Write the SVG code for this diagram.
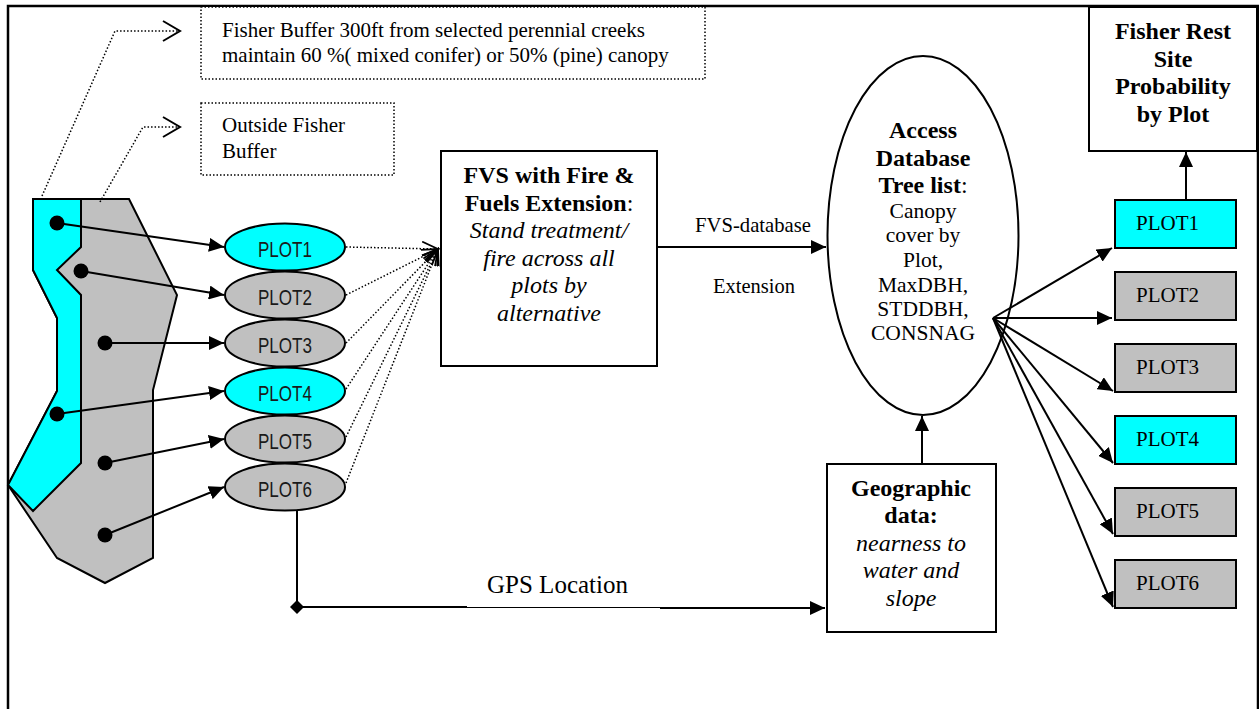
<svg xmlns="http://www.w3.org/2000/svg" width="1259" height="709" viewBox="0 0 1259 709">
  <defs>
    <style>
      .frame { fill: none; stroke: #000; stroke-width: 2.5; }
      .dotbox { fill: #fff; stroke: #000; stroke-width: 1.5; stroke-dasharray: 1.5 2; }
      .box { fill: #fff; stroke: #000; stroke-width: 2; }
      .cyan { fill: #00ffff; }
      .grey { fill: #c0c0c0; }
      .shape { stroke: #000; stroke-width: 2; stroke-linejoin: miter; }
      .solid { fill: none; stroke: #000; stroke-width: 2; }
      .dotted { fill: none; stroke: #000; stroke-width: 1.5; stroke-dasharray: 1.5 2; }
      .serif { font-family: "Liberation Serif", "Times New Roman", serif; fill: #000; }
      .sans { font-family: "Liberation Sans", Arial, sans-serif; fill: #1a1a1a; font-size: 22px; }
      .note { font-size: 21px; }
      .b { font-weight: bold; font-size: 24px; }
      .i { font-style: italic; font-size: 24px; }
      .r { font-size: 21.5px; }
      .mid { text-anchor: middle; }
    </style>
    <marker id="head" markerUnits="userSpaceOnUse" markerWidth="16" markerHeight="14" refX="15" refY="7" orient="auto">
      <path d="M0,0 L15,7 L0,14 z" fill="#000"/>
    </marker>
    <marker id="open" markerUnits="userSpaceOnUse" markerWidth="18" markerHeight="16" refX="16" refY="8" orient="auto">
      <path d="M0,1 L16,8 L0,15" fill="none" stroke="#000" stroke-width="1.8"/>
    </marker>
    <marker id="openBig" markerUnits="userSpaceOnUse" markerWidth="20" markerHeight="22" refX="18" refY="11" orient="auto">
      <path d="M1,1 L18,11 L1,21" fill="none" stroke="#000" stroke-width="2"/>
    </marker>
    <marker id="diamond" markerUnits="userSpaceOnUse" markerWidth="16" markerHeight="16" refX="8" refY="8" orient="auto">
      <path d="M8,1 L15,8 L8,15 L1,8 z" fill="#000"/>
    </marker>
  </defs>

  <rect class="frame" x="8" y="6" width="1250" height="720"/>

  <!-- stream area map -->
  <g id="area-map">
    <polygon class="grey shape" points="33,199 129,199 177,295 153,390 153,558 105,583 57,558 8,485 57,391 57,318 33,270"/>
    <polygon class="cyan shape" points="33,199 81,199 81,247 57,270 81,295 81,463 33,511 8,485 57,391 57,318 33,270"/>
    <circle cx="57" cy="223" r="7.5" fill="#000"/>
    <circle cx="81" cy="271" r="7.5" fill="#000"/>
    <circle cx="105" cy="343" r="7.5" fill="#000"/>
    <circle cx="57" cy="414" r="7.5" fill="#000"/>
    <circle cx="105" cy="463" r="7.5" fill="#000"/>
    <circle cx="105" cy="535" r="7.5" fill="#000"/>
  </g>

  <!-- legend notes -->
  <g id="note-buffer">
    <rect class="dotbox" x="201" y="7" width="504" height="72"/>
    <text class="serif note" x="222" y="37">Fisher Buffer 300ft from selected perennial creeks</text>
    <text class="serif note" x="222" y="62">maintain 60 %( mixed conifer) or 50% (pine) canopy</text>
  </g>
  <g id="note-outside">
    <rect class="dotbox" x="201" y="103" width="193" height="72"/>
    <text class="serif note" x="222" y="132">Outside Fisher</text>
    <text class="serif note" x="222" y="158">Buffer</text>
  </g>

  <!-- plot ellipses -->
  <g id="plot1-e"><ellipse cx="285" cy="247" rx="60" ry="23.5" class="cyan shape"/><text class="sans mid" x="285" y="257" textLength="54" lengthAdjust="spacingAndGlyphs">PLOT1</text></g>
  <g id="plot2-e"><ellipse cx="285" cy="295" rx="60" ry="23.5" class="grey shape"/><text class="sans mid" x="285" y="305" textLength="54" lengthAdjust="spacingAndGlyphs">PLOT2</text></g>
  <g id="plot3-e"><ellipse cx="285" cy="343" rx="60" ry="23.5" class="grey shape"/><text class="sans mid" x="285" y="353" textLength="54" lengthAdjust="spacingAndGlyphs">PLOT3</text></g>
  <g id="plot4-e"><ellipse cx="285" cy="391" rx="60" ry="23.5" class="cyan shape"/><text class="sans mid" x="285" y="401" textLength="54" lengthAdjust="spacingAndGlyphs">PLOT4</text></g>
  <g id="plot5-e"><ellipse cx="285" cy="439" rx="60" ry="23.5" class="grey shape"/><text class="sans mid" x="285" y="449" textLength="54" lengthAdjust="spacingAndGlyphs">PLOT5</text></g>
  <g id="plot6-e"><ellipse cx="285" cy="487" rx="60" ry="23.5" class="grey shape"/><text class="sans mid" x="285" y="497" textLength="54" lengthAdjust="spacingAndGlyphs">PLOT6</text></g>

  <!-- FVS model -->
  <g id="fvs">
    <rect class="box" x="441" y="151" width="216" height="215"/>
    <text class="serif mid" x="549" y="183"><tspan class="b">FVS with Fire &amp;</tspan></text>
    <text class="serif mid" x="549" y="211"><tspan class="b">Fuels Extension</tspan><tspan font-size="24">:</tspan></text>
    <text class="serif i mid" x="549" y="238">Stand treatment/</text>
    <text class="serif i mid" x="549" y="266">fire across all</text>
    <text class="serif i mid" x="549" y="293">plots by</text>
    <text class="serif i mid" x="549" y="321">alternative</text>
  </g>

  <!-- Access database -->
  <g id="access">
    <ellipse cx="923" cy="235.5" rx="95.5" ry="179.5" class="box"/>
    <text class="serif b mid" x="923" y="138">Access</text>
    <text class="serif b mid" x="923" y="166">Database</text>
    <text class="serif mid" x="923" y="193"><tspan class="b">Tree list</tspan><tspan font-size="24">:</tspan></text>
    <text class="serif r mid" x="923" y="218">Canopy</text>
    <text class="serif r mid" x="923" y="242">cover by</text>
    <text class="serif r mid" x="923" y="267">Plot,</text>
    <text class="serif r mid" x="923" y="292">MaxDBH,</text>
    <text class="serif r mid" x="923" y="316">STDDBH,</text>
    <text class="serif r mid" x="923" y="340">CONSNAG</text>
  </g>

  <!-- Geographic data -->
  <g id="geo">
    <rect class="box" x="827" y="464" width="169" height="168"/>
    <text class="serif b mid" x="911" y="496">Geographic</text>
    <text class="serif b mid" x="911" y="523">data:</text>
    <text class="serif i mid" x="911" y="551">nearness to</text>
    <text class="serif i mid" x="911" y="578">water and</text>
    <text class="serif i mid" x="911" y="606">slope</text>
  </g>

  <!-- Result -->
  <g id="result">
    <rect class="box" x="1089" y="7" width="168" height="144"/>
    <text class="serif b mid" x="1173" y="39">Fisher Rest</text>
    <text class="serif b mid" x="1173" y="67">Site</text>
    <text class="serif b mid" x="1173" y="94">Probability</text>
    <text class="serif b mid" x="1173" y="122">by Plot</text>
  </g>

  <!-- plot boxes -->
  <g id="plot1-r"><rect x="1115" y="200" width="121" height="48" class="cyan shape"/><text class="serif note" x="1136" y="230">PLOT1</text></g>
  <g id="plot2-r"><rect x="1115" y="272" width="121" height="48" class="grey shape"/><text class="serif note" x="1136" y="302">PLOT2</text></g>
  <g id="plot3-r"><rect x="1115" y="344" width="121" height="48" class="grey shape"/><text class="serif note" x="1136" y="374">PLOT3</text></g>
  <g id="plot4-r"><rect x="1115" y="416" width="121" height="48" class="cyan shape"/><text class="serif note" x="1136" y="446">PLOT4</text></g>
  <g id="plot5-r"><rect x="1115" y="488" width="121" height="48" class="grey shape"/><text class="serif note" x="1136" y="518">PLOT5</text></g>
  <g id="plot6-r"><rect x="1115" y="560" width="121" height="48" class="grey shape"/><text class="serif note" x="1136" y="590">PLOT6</text></g>

  <!-- connectors -->
  <g id="connectors">
    <polyline class="dotted" points="42,196 115,31 180,31" marker-end="url(#openBig)"/>
    <polyline class="dotted" points="100,202 143,127 180,127" marker-end="url(#openBig)"/>

    <line class="solid" x1="57" y1="223" x2="224" y2="247" marker-end="url(#head)"/>
    <line class="solid" x1="81" y1="271" x2="224" y2="295" marker-end="url(#head)"/>
    <line class="solid" x1="105" y1="343" x2="224" y2="343" marker-end="url(#head)"/>
    <line class="solid" x1="57" y1="414" x2="224" y2="391" marker-end="url(#head)"/>
    <line class="solid" x1="105" y1="463" x2="224" y2="439" marker-end="url(#head)"/>
    <line class="solid" x1="105" y1="535" x2="224" y2="487" marker-end="url(#head)"/>

    <line class="dotted" x1="346" y1="247" x2="438" y2="249" marker-end="url(#open)"/>
    <line class="dotted" x1="346" y1="295" x2="438" y2="249" marker-end="url(#open)"/>
    <line class="dotted" x1="346" y1="343" x2="438" y2="249" marker-end="url(#open)"/>
    <line class="dotted" x1="346" y1="389" x2="438" y2="249" marker-end="url(#open)"/>
    <line class="dotted" x1="346" y1="437" x2="438" y2="249" marker-end="url(#open)"/>
    <line class="dotted" x1="346" y1="483" x2="438" y2="249" marker-end="url(#open)"/>

    <line class="solid" x1="657" y1="247" x2="826" y2="247" marker-end="url(#head)"/>
    <text class="serif" font-size="22" x="695" y="232" textLength="116" lengthAdjust="spacingAndGlyphs">FVS-database</text>
    <text class="serif" font-size="22" x="713" y="293" textLength="82" lengthAdjust="spacingAndGlyphs">Extension</text>

    <polyline class="solid" points="297,511 297,607" marker-end="url(#diamond)"/>
    <line class="solid" x1="297" y1="607" x2="467" y2="607"/>
    <line fill="none" stroke="#000" stroke-width="1" x1="467" y1="607.5" x2="660" y2="607.5"/>
    <line class="solid" x1="660" y1="608" x2="825" y2="608" marker-end="url(#head)"/>
    <text class="serif" font-size="25" x="487" y="593">GPS Location</text>

    <line class="solid" x1="922" y1="464" x2="922" y2="416" marker-end="url(#head)"/>
    <line class="solid" x1="1186" y1="200" x2="1186" y2="152" marker-end="url(#head)"/>

    <line class="solid" x1="993" y1="318" x2="1112" y2="248" marker-end="url(#head)"/>
    <line class="solid" x1="993" y1="318" x2="1112" y2="318" marker-end="url(#head)"/>
    <line class="solid" x1="993" y1="318" x2="1113" y2="391" marker-end="url(#head)"/>
    <line class="solid" x1="993" y1="318" x2="1113" y2="463" marker-end="url(#head)"/>
    <line class="solid" x1="993" y1="318" x2="1113" y2="534" marker-end="url(#head)"/>
    <line class="solid" x1="993" y1="318" x2="1113" y2="607" marker-end="url(#head)"/>
  </g>
</svg>
